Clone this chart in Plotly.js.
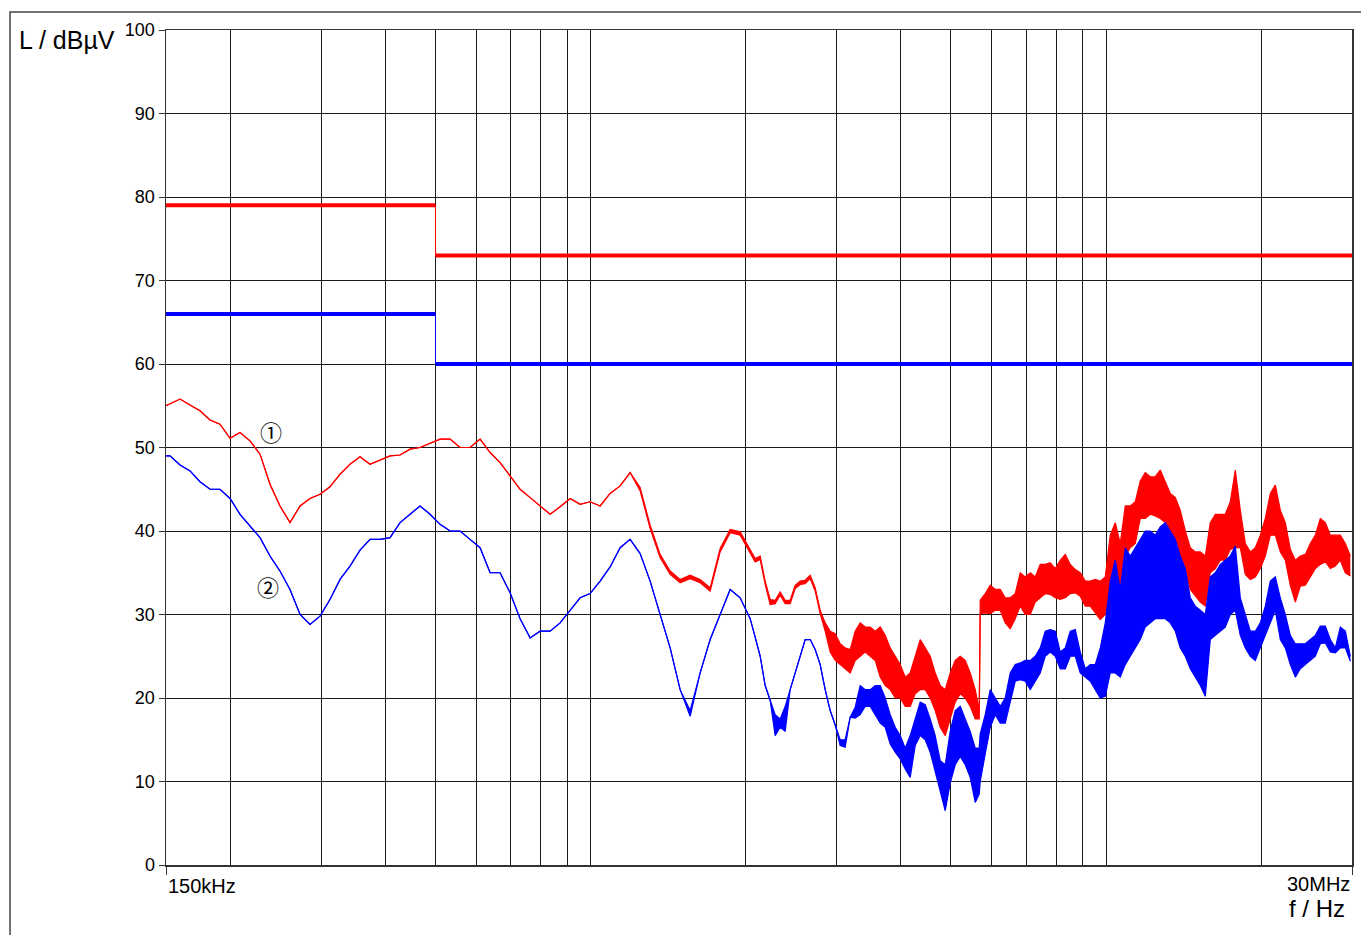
<!DOCTYPE html>
<html>
<head>
<meta charset="utf-8">
<script src="https://cdn.plot.ly/plotly-3.0.1.min.js"></script>
<style>
html,body{margin:0;padding:0;background:#fff;}
#chart{width:1361px;height:935px;}
</style>
</head>
<body>
<div id="chart"></div>
<script>
// ---------- data (frequency in MHz, level in dBµV) ----------
const freqMHz = [
  0.15, 0.1527, 0.1597, 0.1670, 0.1746, 0.1826, 0.1909, 0.1997, 0.2088, 0.2183,
  0.2283, 0.2387, 0.2496, 0.2610, 0.2730, 0.2854, 0.2985, 0.3121, 0.3264, 0.3413,
  0.3569, 0.3732, 0.3903, 0.4081, 0.4268, 0.4463, 0.4667, 0.4880, 0.5103, 0.5336,
  0.5580, 0.5835, 0.6102, 0.6381, 0.6672, 0.6977, 0.7296, 0.7630, 0.7978, 0.8343,
  0.8724, 0.9123, 0.9540, 0.9976, 1.0432, 1.0908, 1.1407, 1.1928, 1.2473, 1.3043,
  1.3639, 1.4263, 1.4914, 1.5596, 1.6309, 1.7054, 1.7833, 1.8648, 1.9501, 2.0392,
  2.0852, 2.1324, 2.1806, 2.2298, 2.2802, 2.3317, 2.3844, 2.4383, 2.4934, 2.5497,
  2.6074, 2.6662, 2.7265, 2.7881, 2.8511, 2.9155, 2.9814, 3.0487, 3.1176, 3.1881,
  3.2601, 3.3338, 3.4091, 3.4861, 3.5649, 3.6454, 3.7278, 3.8120, 3.8982, 3.9862,
  4.0763, 4.1684, 4.2626, 4.3589, 4.4574, 4.5581, 4.6611, 4.7664, 4.8741, 4.9842,
  5.0969, 5.2120, 5.3298, 5.4502, 5.5734,
  5.674,
  5.6993, 5.8281, 5.9597, 6.0944, 6.2321, 6.3729, 6.5169, 6.6641, 6.8147, 6.9687,
  7.1261, 7.2872, 7.4518, 7.6202, 7.7924, 7.9684, 8.1485, 8.3326, 8.5208, 8.7134,
  8.9103, 9.1116, 9.3175, 9.5280, 9.7433, 9.9634, 10.189, 10.419, 10.654, 10.895,
  11.141, 11.393, 11.650, 11.913, 12.183, 12.458, 12.739, 13.027, 13.322, 13.623,
  13.930, 14.245, 14.567, 14.896, 15.233, 15.577, 15.929, 16.289, 16.657, 17.033,
  17.418, 17.812, 18.214, 18.626, 19.046, 19.477, 19.917, 20.367, 20.827, 21.298,
  21.779, 22.271, 22.774, 23.289, 23.815, 24.353, 24.903, 25.466, 26.041, 26.630,
  27.231, 27.847, 28.476, 29.119, 29.777
];

// trace 1 (red): upper and lower edge of the measured band
const redHi = [
  55.0, 55.2, 55.8, 55.1, 54.4, 53.3, 52.8, 51.1, 51.8, 50.8,
  49.2, 45.6, 43.0, 41.0, 43.0, 43.9, 44.4, 45.3, 46.8, 48.0,
  48.9, 48.0, 48.5, 49.0, 49.1, 49.8, 50.0, 50.5, 51.0, 51.0,
  50.0, 50.0, 51.0, 49.4, 48.2, 46.6, 45.0, 44.0, 43.0, 42.0,
  42.9, 43.9, 43.2, 43.5, 43.0, 44.5, 45.4, 47.0, 45.2, 40.7,
  37.2, 35.2, 34.2, 34.7, 34.2, 33.2, 37.9, 40.2, 39.9, 37.7,
  36.7, 37.0, 34.0, 31.8, 31.7, 32.7, 31.7, 31.7, 33.5, 34.0,
  34.1, 34.7, 33.2, 30.5, 29.0, 28.0, 27.7, 26.5, 26.0, 25.8,
  28.0, 29.0, 28.5, 28.5, 28.0, 28.5, 27.5, 26.0, 25.0, 24.0,
  22.5, 23.0, 25.0, 27.0, 26.0, 25.0, 23.0, 21.5, 21.0, 23.0,
  24.5, 25.0, 24.5, 23.0, 21.0,
  18.5,
  31.7, 32.5, 33.5, 33.0, 33.0, 32.0, 32.0, 32.5, 35.0, 34.5,
  35.0, 34.5, 36.0, 36.0, 36.2, 35.5, 36.5, 37.2, 36.0, 35.4,
  35.0, 34.0, 34.0, 34.2, 34.0, 34.5, 39.5, 41.0, 38.5, 43.0,
  43.0, 43.5, 46.0, 47.0, 46.5, 46.5, 47.3, 46.0, 44.5, 44.0,
  42.5, 40.0, 38.0, 37.5, 37.5, 37.0, 41.0, 42.0, 42.0, 42.0,
  43.5, 47.3, 42.5, 38.5, 37.5, 38.0, 39.5, 41.5, 44.5, 45.5,
  42.5, 41.0, 37.8, 36.5, 37.0, 37.2, 38.5, 39.5, 41.5, 41.0,
  39.5, 39.5, 39.5, 38.5, 37.0
];
const redLo = [
  55.0, 55.2, 55.8, 55.1, 54.4, 53.3, 52.8, 51.1, 51.8, 50.8,
  49.2, 45.6, 43.0, 41.0, 43.0, 43.9, 44.4, 45.3, 46.8, 48.0,
  48.9, 48.0, 48.5, 49.0, 49.1, 49.8, 50.0, 50.5, 51.0, 51.0,
  50.0, 50.0, 51.0, 49.4, 48.2, 46.6, 45.0, 44.0, 43.0, 42.0,
  42.9, 43.9, 43.2, 43.5, 43.0, 44.5, 45.4, 47.0, 44.8, 40.3,
  36.8, 34.8, 33.8, 34.3, 33.8, 32.8, 37.5, 39.8, 39.5, 37.3,
  36.3, 36.6, 33.6, 31.2, 31.3, 32.3, 31.3, 31.3, 33.1, 33.6,
  33.7, 34.3, 32.8, 30.1, 28.0, 25.5, 24.5, 24.0, 23.5, 23.0,
  24.5, 25.0, 25.5, 25.0, 24.5, 22.5, 21.5, 21.0, 20.0, 20.0,
  19.0, 19.0, 20.5, 21.0, 21.0, 20.0, 18.5, 16.5, 15.5, 17.5,
  19.5, 20.5, 20.0, 19.0, 17.5,
  17.5,
  30.1, 30.2, 30.1, 30.5, 30.5, 29.0, 28.3, 29.5, 31.0, 30.0,
  30.0, 31.5, 32.0, 32.5, 32.4, 32.0, 31.8, 32.0, 32.5, 32.6,
  32.2, 31.0, 31.0, 30.2, 29.4, 30.0, 33.0, 34.6, 33.5, 37.0,
  38.0, 38.5, 41.5, 41.5, 42.0, 41.8, 41.5, 41.0, 39.4, 38.0,
  37.0, 35.3, 33.0, 32.2, 31.5, 31.0, 35.0, 35.5, 36.5, 36.5,
  37.8, 38.0, 38.0, 34.8, 34.2, 34.5, 35.5, 37.0, 39.5, 39.5,
  37.5, 36.5, 33.5, 31.5, 33.4, 33.5, 34.5, 35.5, 36.0, 36.3,
  35.5, 35.8, 36.5, 35.0, 34.6
];

// trace 2 (blue): upper and lower edge of the measured band
const blueHi = [
  49.0, 49.0, 47.9, 47.2, 45.9, 45.0, 45.0, 43.9, 42.0, 40.6,
  39.2, 37.0, 35.2, 33.0, 30.0, 28.8, 29.8, 31.8, 34.2, 35.8,
  37.7, 39.0, 39.0, 39.2, 41.0, 42.0, 43.0, 42.0, 40.8, 40.0,
  40.0, 39.0, 38.0, 35.0, 35.0, 32.6, 29.5, 27.2, 28.0, 28.0,
  29.0, 30.5, 32.0, 32.5, 34.0, 35.7, 38.0, 39.0, 37.3, 34.0,
  30.0, 26.0, 21.0, 18.5, 23.0, 27.0, 30.0, 33.0, 32.0, 29.5,
  27.3, 25.0, 21.5, 19.7, 18.0, 17.5, 19.0, 21.0, 23.0, 25.0,
  27.0, 27.0, 25.8, 24.0, 21.0, 18.5, 16.8, 15.0, 15.0, 17.7,
  18.9, 21.5, 21.0, 21.0, 21.5, 21.5, 20.0, 18.0, 16.5, 15.5,
  14.0, 15.5, 17.5, 19.5, 19.2, 17.5, 15.5, 12.5, 12.0, 16.0,
  18.5, 19.0, 17.5, 16.0, 14.0,
  14.0,
  15.7, 18.0, 21.0, 20.0, 19.0, 20.0, 23.0, 24.0, 24.2, 24.5,
  24.5, 25.0, 26.0, 28.0, 28.2, 28.0, 25.5, 26.0, 28.0, 28.2,
  25.5, 23.5, 24.0, 24.0, 26.0, 29.0, 34.0, 36.5, 33.0, 38.0,
  37.0, 38.0, 39.0, 40.0, 40.0, 39.5, 40.5, 41.0, 40.0, 39.0,
  37.0, 35.5, 32.0, 31.0, 30.5, 30.0, 34.5, 35.0, 36.0, 36.5,
  37.0, 38.2, 32.0, 30.0, 28.0, 28.0, 29.0, 31.0, 34.0, 34.5,
  32.0, 30.0, 27.5, 26.5, 26.5, 26.5, 27.0, 27.5, 28.6, 28.6,
  27.0, 26.0, 28.5, 28.0, 25.0
];
const blueLo = [
  49.0, 49.0, 47.9, 47.2, 45.9, 45.0, 45.0, 43.9, 42.0, 40.6,
  39.2, 37.0, 35.2, 33.0, 30.0, 28.8, 29.8, 31.8, 34.2, 35.8,
  37.7, 39.0, 39.0, 39.2, 41.0, 42.0, 43.0, 42.0, 40.8, 40.0,
  40.0, 39.0, 38.0, 35.0, 35.0, 32.6, 29.5, 27.2, 28.0, 28.0,
  29.0, 30.5, 32.0, 32.5, 34.0, 35.7, 38.0, 39.0, 37.3, 34.0,
  30.0, 26.0, 21.0, 17.8, 23.0, 27.0, 30.0, 33.0, 32.0, 29.5,
  27.3, 25.0, 21.5, 19.7, 15.5, 16.5, 16.0, 21.0, 23.0, 25.0,
  27.0, 27.0, 25.8, 24.0, 21.0, 18.5, 16.8, 14.3, 14.1, 17.7,
  17.6, 18.0, 19.0, 19.0, 18.0, 17.0, 16.5, 14.5, 13.5, 12.7,
  11.5, 10.5, 14.3, 15.5, 15.0, 13.5, 11.2, 9.0, 6.5, 9.8,
  12.0, 13.0, 12.0, 10.5, 7.5,
  8.5,
  10.0, 13.3, 16.5, 18.0, 17.0, 17.0, 19.5, 22.0, 22.2, 22.0,
  21.0, 22.0, 23.0, 25.0, 25.5, 25.0, 23.5, 23.5, 25.0, 25.0,
  23.0, 22.5, 22.0, 21.0, 20.0, 20.2, 23.0, 23.0, 22.5, 24.0,
  25.0, 26.0, 27.0, 28.5, 29.0, 29.5, 29.5, 29.5, 29.0, 28.0,
  26.0, 25.0, 23.5, 22.5, 21.5, 20.2, 27.0, 27.5, 28.0, 28.5,
  30.0, 30.5, 27.5, 26.0, 25.0, 24.5, 26.0, 27.4, 29.0, 30.5,
  27.0, 26.0, 24.0, 22.5, 23.5, 24.0, 24.5, 25.0, 26.5, 26.6,
  25.5, 25.4, 26.0, 26.0, 24.4
];

// limit lines
const limitFreqMHz = [0.15, 0.5, 0.5, 30];
const qpLimit = [79, 79, 73, 73];
const avLimit = [66, 66, 60, 60];

// axes
const gridFreqMHz = [0.2, 0.3, 0.4, 0.5, 0.6, 0.7, 0.8, 0.9, 1, 2, 3, 4, 5, 6, 7, 8, 9, 10, 20];
const yTicks = [0, 10, 20, 30, 40, 50, 60, 70, 80, 90, 100];
const xEndLabels = ['150kHz', '30MHz'];
const yTitle = 'L / dBµV';
const xTitle = 'f / Hz';
const traceMarks = ['①', '②'];

// ---------- drawing ----------
const FONT = '"Liberation Sans", Arial, Helvetica, sans-serif';
const RED = '#ff0000';
const BLUE = '#0000ff';

function seg(x, y, color, width) {
  return {x: x, y: y, type: 'scatter', mode: 'lines', hoverinfo: 'skip',
          line: {color: color, width: width}};
}

const traces = [
  seg(limitFreqMHz.slice(0, 2), qpLimit.slice(0, 2), RED, 4),
  seg(limitFreqMHz.slice(2, 4), qpLimit.slice(2, 4), RED, 4),
  seg(limitFreqMHz.slice(1, 3), qpLimit.slice(1, 3), RED, 1),
  seg(limitFreqMHz.slice(0, 2), avLimit.slice(0, 2), BLUE, 4),
  seg(limitFreqMHz.slice(2, 4), avLimit.slice(2, 4), BLUE, 4),
  seg(limitFreqMHz.slice(1, 3), avLimit.slice(1, 3), BLUE, 1),
  seg(freqMHz, redLo, RED, 1.2),
  Object.assign(seg(freqMHz, redHi, RED, 1.2), {fill: 'tonexty', fillcolor: RED}),
  seg(freqMHz, blueLo, BLUE, 1.2),
  Object.assign(seg(freqMHz, blueHi, BLUE, 1.2), {fill: 'tonexty', fillcolor: BLUE})
];

const GRID = '#1a1a1a';
const FRAME = '#333333';

const layout = {
  width: 1361, height: 935,
  margin: {l: 166, r: 9, t: 30, b: 70, pad: 0},
  paper_bgcolor: '#ffffff', plot_bgcolor: '#ffffff',
  showlegend: false,
  font: {family: FONT, color: '#000000', size: 18},
  xaxis: {
    type: 'log',
    range: [Math.log10(0.15), Math.log10(30)],
    tickmode: 'array', tickvals: [0.15, 30],
    ticks: 'outside', ticklen: 8, tickwidth: 1, tickcolor: FRAME,
    showticklabels: false, showgrid: false, zeroline: false,
    showline: true, linecolor: FRAME, linewidth: 1.5, mirror: true,
    minor: {tickmode: 'array', tickvals: gridFreqMHz, showgrid: true,
            gridcolor: GRID, gridwidth: 1, ticks: ''},
    fixedrange: true
  },
  yaxis: {
    range: [0, 100],
    tickmode: 'array', tickvals: yTicks,
    ticks: 'outside', ticklen: 6, tickwidth: 1, tickcolor: FRAME,
    tickfont: {family: FONT, size: 18, color: '#000'},
    showgrid: true, gridcolor: GRID, gridwidth: 1, zeroline: false,
    showline: true, linecolor: FRAME, linewidth: 1.5, mirror: true,
    fixedrange: true
  },
  annotations: [
    {xref: 'paper', yref: 'paper', x: -0.1255, y: 0.988, xanchor: 'left', yanchor: 'middle',
     text: yTitle, showarrow: false, font: {family: FONT, size: 25, color: '#000'}},
    {xref: 'paper', yref: 'paper', x: 0.0, y: -0.0251, xanchor: 'left', yanchor: 'middle',
     text: xEndLabels[0], showarrow: false, font: {family: FONT, size: 20, color: '#000'}},
    {xref: 'paper', yref: 'paper', x: 1.0, y: -0.0228, xanchor: 'right', yanchor: 'middle',
     text: xEndLabels[1], showarrow: false, font: {family: FONT, size: 20, color: '#000'}},
    {xref: 'paper', yref: 'paper', x: 0.9958, y: -0.0523, xanchor: 'right', yanchor: 'middle',
     text: xTitle, showarrow: false, font: {family: FONT, size: 24, color: '#000'}},
    {xref: 'x', yref: 'y', x: Math.log10(0.2398), y: 52.0, xanchor: 'center', yanchor: 'middle',
     text: traceMarks[0], showarrow: false,
     font: {family: '"Noto Sans CJK JP", "DejaVu Sans", sans-serif', size: 22, color: '#000'}},
    {xref: 'x', yref: 'y', x: Math.log10(0.2369), y: 33.45, xanchor: 'center', yanchor: 'middle',
     text: traceMarks[1], showarrow: false,
     font: {family: '"Noto Sans CJK JP", "DejaVu Sans", sans-serif', size: 22, color: '#000'}}
  ],
  shapes: [
    {type: 'rect', xref: 'paper', yref: 'paper', layer: 'above',
     x0: -0.1315, x1: 1.05, y0: -0.1, y1: 1.0216,
     line: {color: '#444444', width: 1.5}, fillcolor: 'rgba(0,0,0,0)'}
  ]
};

Plotly.newPlot('chart', traces, layout, {displayModeBar: false, staticPlot: true, responsive: false});
</script>
</body>
</html>
